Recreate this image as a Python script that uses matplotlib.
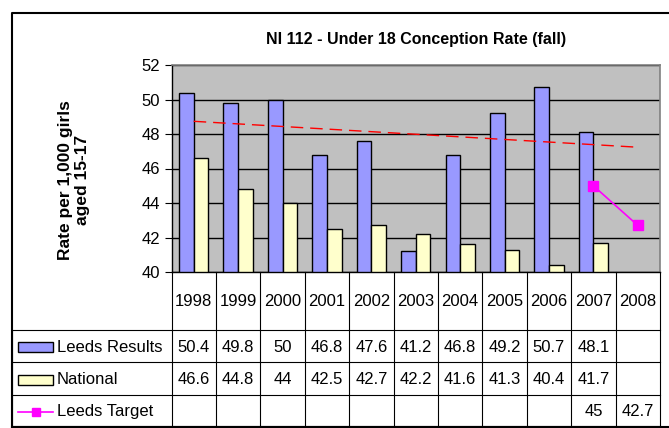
import matplotlib
matplotlib.use("Agg")
import matplotlib.pyplot as plt
import numpy as np
from matplotlib.patches import Rectangle
from matplotlib.lines import Line2D
from matplotlib.transforms import blended_transform_factory

years = ["1998", "1999", "2000", "2001", "2002", "2003", "2004", "2005", "2006", "2007", "2008"]
leeds_results = [50.4, 49.8, 50, 46.8, 47.6, 41.2, 46.8, 49.2, 50.7, 48.1, None]
national = [46.6, 44.8, 44, 42.5, 42.7, 42.2, 41.6, 41.3, 40.4, 41.7, None]
leeds_target = [None, None, None, None, None, None, None, None, None, 45, 42.7]
yticks = [40, 42, 44, 46, 48, 50, 52]

W, H = 669, 428
plt.rcParams['font.family'] = ['Liberation Sans', 'DejaVu Sans']
fig = plt.figure(figsize=(W / 100, H / 100), dpi=100)

def fx(px):
    return px / W

def fy(py):
    return 1 - py / H

L, R, T, B = 171.5, 660, 65, 272
ax = fig.add_axes([fx(L), fy(B), fx(R) - fx(L), fy(T) - fy(B)])
ax.set_facecolor("#C0C0C0")
n = len(years)
x = np.arange(n)
ax.set_xlim(-0.5, n - 0.5)
ax.set_ylim(40, 52)
ax.set_yticks(yticks)
ax.yaxis.grid(True, color="black", linewidth=1)
ax.set_axisbelow(True)
ax.tick_params(axis="y", labelsize=12, length=5, direction="out", pad=3)
ax.set_xticks([])
for s in ["left", "bottom"]:
    ax.spines[s].set_color("black")
    ax.spines[s].set_linewidth(1)
for s in ["top", "right"]:
    ax.spines[s].set_color("#808080")
    ax.spines[s].set_linewidth(1.2)

bw = 0.33
lx = [i for i, v in enumerate(leeds_results) if v is not None]
lv = [v for v in leeds_results if v is not None]
nx = [i for i, v in enumerate(national) if v is not None]
nv = [v for v in national if v is not None]
ax.bar(np.array(lx) - bw / 2, np.array(lv) - 40, bottom=40, width=bw, color="#9999FF",
       edgecolor="black", linewidth=1, zorder=3)
ax.bar(np.array(nx) + bw / 2, np.array(nv) - 40, bottom=40, width=bw, color="#FFFFCC",
       edgecolor="black", linewidth=1, zorder=3)

# linear trendline of Leeds results
coef = np.polyfit(lx, lv, 1)
tx = np.array([0, n - 1])
ax.plot(tx, np.polyval(coef, tx), color="#FF0000", linestyle=(0, (9, 5)), linewidth=1, zorder=4)

tgx = [i for i, v in enumerate(leeds_target) if v is not None]
tgv = [v for v in leeds_target if v is not None]
ax.plot(tgx, tgv, color="#FF00FF", linewidth=1.2, marker="s", markersize=6.5, zorder=5)

ax.set_title("NI 112 - Under 18 Conception Rate (fall)", fontsize=11.5, fontweight="bold", pad=15)
fig.text(fx(74), fy(180), "Rate per 1,000 girls\naged 15-17", rotation=90, ha="center", va="center",
         fontsize=12.5, fontweight="bold", linespacing=1.1)

# data table
trans = blended_transform_factory(ax.transData, fig.transFigure)
row_y = [272, 330, 362, 395, 426]
lc = "black"
lw = 0.8
for yy in row_y[1:]:
    fig.add_artist(Line2D([fx(12), fx(R)], [fy(yy), fy(yy)], color=lc, linewidth=lw))
for k in range(n + 1):
    xx = k - 0.5
    fig.add_artist(Line2D([xx, xx], [fy(272), fy(426)], color=lc, linewidth=lw, transform=trans))
fig.add_artist(Line2D([fx(12), fx(12)], [fy(330), fy(426)], color=lc, linewidth=lw))

for i, yr in enumerate(years):
    fig.text(i, fy(301), yr, transform=trans, ha="center", va="center", fontsize=12)

rows = [("Leeds Results", leeds_results), ("National", national), ("Leeds Target", leeds_target)]
for r, (name, vals) in enumerate(rows):
    yc = (row_y[r + 1] + row_y[r + 2]) / 2 + 1
    for i, v in enumerate(vals):
        if v is not None:
            fig.text(i, fy(yc), f"{v:g}", transform=trans, ha="center", va="center", fontsize=12)
    fig.text(fx(57), fy(yc), name, ha="left", va="center", fontsize=12)

# legend keys
for r, col in enumerate(["#9999FF", "#FFFFCC"]):
    yc = (row_y[r + 1] + row_y[r + 2]) / 2 + 1
    fig.add_artist(Rectangle((fx(18), fy(yc + 5)), fx(53) - fx(18), fy(yc - 5) - fy(yc + 5),
                             facecolor=col, edgecolor="black", linewidth=1, transform=fig.transFigure))
yc = (row_y[3] + row_y[4]) / 2 + 1
fig.add_artist(Line2D([fx(18), fx(53)], [fy(yc), fy(yc)], color="#FF00FF", linewidth=1.2))
fig.add_artist(Line2D([fx(36)], [fy(yc)], color="#FF00FF", marker="s", markersize=6))

# outer chart border
fig.add_artist(Line2D([fx(12), fx(12), fx(W + 2)], [fy(427), fy(13), fy(13)], color="black", linewidth=1.5))
fig.add_artist(Line2D([fx(12), fx(W + 2)], [fy(427), fy(427)], color="black", linewidth=1.5))

fig.savefig("out.png", dpi=100)
